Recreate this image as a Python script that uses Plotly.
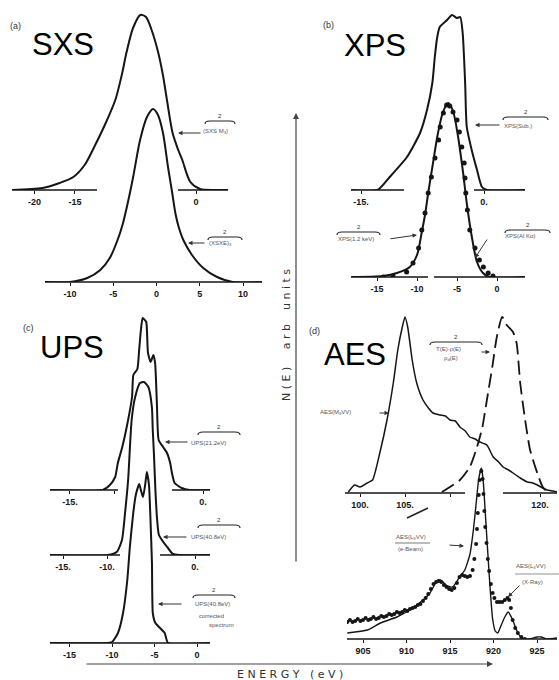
import plotly.graph_objects as go

W, H = 559, 680

# ---------------- data (energy in eV, N(E) in arbitrary units) ----------------
# (a) SXS
sxs_up_e = [-22.8, -19.0, -16.9, -15.2, -13.8, -12.8, -11.3, -10.0, -9.2, -8.6, -7.8, -6.9,
            -6.2, -5.5, -4.7, -4.1, -3.6, -2.9, -2.2, -1.7, -0.7, 0.5, 2.4, 4.0]
sxs_up_n = [0, 2, 7, 13, 25, 40, 65, 90, 115, 138, 162, 175,
            173, 160, 138, 115, 90, 57, 40, 30, 8, 1, 0, 0]
sxs_lo_e = [-12.9, -10.0, -8.0, -6.5, -5.4, -4.5, -3.9, -3.3, -2.7, -1.9, -1.1, -0.4,
            0.17, 0.75, 1.33, 1.8, 2.2, 2.6, 3.1, 4.1, 5.4, 7.0, 8.8, 12.2]
sxs_lo_n = [0, 0, 4, 12, 24, 42, 58, 80, 105, 142, 165, 173,
            167, 149, 115, 90, 68, 54, 42, 27, 14, 5, 0, 0]

# (b) XPS
xps_up_e = [-16.2, -13.0, -11.5, -9.4, -7.8, -6.95, -6.3, -6.0, -5.7, -5.4, -4.5, -3.9,
            -3.3, -2.9, -2.6, -2.3, -2.1, -1.5, -0.85, -0.25, 0.4, 5.0]
xps_up_n = [0, 0, 13, 33, 57, 80, 107, 133, 153, 163, 170, 175,
            172, 173, 157, 107, 63, 40, 20, 3, 0, 0]
xps_lo_e = [-18.2, -14.25, -12.5, -10.9, -10.0, -9.4, -9.0, -8.6, -8.0, -7.4, -6.75, -6.1,
            -5.5, -4.9, -4.25, -3.75, -3.1, -2.5, -1.75, -0.9, 3.5]
xps_lo_n = [0, 1, 4, 10, 22, 45, 62, 84, 114, 143, 165, 174,
            166, 142, 105, 72, 38, 15, 4, 0, 0]
xps_dot_e = [-14.2, -13.0, -11.3, -10.5, -9.8, -9.4, -9.0, -8.6, -8.2, -7.75, -7.3, -7.1,
             -6.7, -6.3, -5.9, -5.5, -5.0, -4.7, -4.4, -4.1, -4.0, -3.9, -3.7, -3.4,
             -2.75, -2.2, -1.7, -1.1, -0.5]
xps_dot_n = [0, 1, 5, 14, 29, 47, 64, 84, 100, 119, 137, 150,
             164, 172, 171, 165, 157, 145, 130, 114, 99, 84, 67, 47,
             29, 17, 10, 4, 1]

# (c) UPS
ups1_e = [-17.25, -11.3, -10.5, -9.9, -9.6, -9.1, -8.6, -8.0, -7.85, -7.4, -7.2, -7.0,
          -6.8, -6.4, -6.3, -6.2, -5.9, -5.6, -5.4, -5.2, -5.0, -4.5, -4.06, -3.7,
          -3.5, -3.2, -2.4, -1.5, 0.8]
ups1_n = [0, 0, 5, 13, 27, 43, 63, 93, 115, 121, 140, 160,
          172, 168, 155, 137, 128, 135, 127, 87, 50, 43, 37, 27,
          17, 7, 2, 0, 0]
ups2_e = [-16.5, -9.9, -8.9, -8.3, -7.95, -7.6, -7.2, -6.8, -6.25, -5.8, -5.3, -4.9,
          -4.8, -4.66, -4.5, -4.3, -4.1, -3.6, -3.07, -2.5, -1.7, 1.7]
ups2_n = [0, 0, 3, 15, 42, 75, 135, 158, 172, 173, 168, 148,
          125, 100, 65, 35, 20, 13, 7, 1, 0, 0]
ups3_e = [-17.3, -10.6, -10.0, -9.3, -8.7, -8.2, -7.9, -7.5, -7.2, -6.8, -6.6, -6.35,
          -6.1, -5.9, -5.65, -5.5, -5.3, -5.2, -4.9, -4.35, -3.8, -3.4, 1.5]
ups3_n = [0, 0, 1, 10, 30, 63, 96, 130, 148, 159, 153, 146,
          158, 171, 158, 130, 80, 30, 20, 15, 10, 0, 0]

# (d) AES  M3VV (solid) and comparison (dashed)
aes_m_e = [98.7, 99.4, 100.0, 100.8, 101.4, 102.2, 103.0, 103.7, 104.2, 104.7, 105.0, 105.3,
           105.8, 106.3, 107.0, 107.6, 108.1, 108.9, 109.5, 110.0, 110.6, 111.1, 111.7, 112.2,
           112.8, 113.3, 114.1, 114.8, 115.4, 115.9, 116.5, 117.0, 117.8, 118.6, 119.2, 119.7,
           120.3, 120.8, 121.4, 121.9]
aes_m_n = [1, 8, 6, 10, 13, 40, 73, 110, 143, 166, 176, 166,
           133, 110, 93, 85, 80, 78, 77, 73, 72, 66, 62, 56,
           54, 51, 48, 36, 31, 26, 23, 20, 15, 11, 10, 8,
           5, 3, 2, 1]
aes_t_e = [109.1, 111.1, 112.2, 113.0, 113.6, 114.1, 114.7, 115.2, 115.8, 116.3, 117.0, 117.4,
           117.8, 118.3, 118.9, 119.7, 120.3, 120.8]
aes_t_n = [1, 13, 26, 46, 66, 93, 126, 156, 176, 168, 161, 150,
           110, 76, 43, 20, 6, 1]

# (d) AES L3VV  e-beam (solid) and X-ray (dots)
aes_e_e = [903.2, 905.5, 907.0, 908.9, 910.7, 911.9, 912.7, 913.5, 913.9, 914.7, 915.3, 916.1,
           916.7, 917.3, 917.7, 918.0, 918.3, 918.6, 918.8, 919.1, 919.5, 919.9, 920.2, 920.5,
           920.8, 921.3, 921.7, 922.2, 922.8, 923.4, 924.2, 925.0, 925.5, 926.1, 927.3]
aes_e_n = [6, 9, 16, 22, 31, 39, 46, 58, 59, 53, 52, 62,
           69, 85, 110, 135, 160, 171, 160, 120, 65, 20, 8, 6,
           12, 22, 27, 19, 6, 0, 0, 2, 2, 0, 1]
aes_x_e = [903.2, 903.5, 903.8, 904.1, 904.4, 904.7, 905.0, 905.3, 905.6, 905.9, 906.2, 906.5,
           906.8, 907.1, 907.4, 907.7, 908.0, 908.3, 908.6, 908.9, 909.2, 909.5, 909.8, 910.1,
           910.4, 910.7, 911.0, 911.3, 911.6, 911.9, 912.2, 912.5, 912.8, 913.1, 913.4, 913.7,
           914.0, 914.3, 914.6, 914.9, 915.2, 915.5, 915.8, 916.1, 916.4, 916.7, 917.0, 917.3,
           917.6, 917.8, 918.0, 918.1, 918.2, 918.3, 918.4, 918.6, 918.75, 918.85, 918.95, 919.05,
           919.2, 919.35, 919.5, 919.7, 919.9, 920.1, 920.4, 920.7, 921.0, 921.3, 921.6, 921.8,
           922.0, 922.2, 922.5, 922.8, 923.2, 923.6]
aes_x_n = [17, 19, 17, 18, 20, 18, 19, 21, 19, 20, 22, 20,
           21, 23, 22, 23, 25, 24, 25, 27, 26, 27, 29, 28,
           30, 31, 32, 34, 35, 38, 41, 45, 50, 55, 57, 58,
           57, 54, 52, 50, 49, 51, 56, 62, 64, 63, 62, 63,
           69, 80, 95, 110, 126, 144, 159, 168, 160, 145, 128, 112,
           96, 80, 68, 55, 46, 41, 37, 37, 37, 39, 41, 39,
           31, 19, 11, 6, 2, 0]

# tick labels
ticks_a_up = ([-20, -15, 0], ["-20", "-15", "0"])
ticks_a_lo = ([-10, -5, 0, 5, 10], ["-10", "-5", "0", "5", "10"])
ticks_b_up = ([-15, 0], ["-15.", "0."])
ticks_b_lo = ([-15, -10, -5, 0], ["-15", "-10", "-5", "0"])
ticks_c1 = ([-15, -10, 0], ["-15.", "", "0."])
ticks_c2 = ([-15, -10, 0], ["-15.", "-10.", "0."])
ticks_c3 = ([-15, -10, -5, 0], ["-15", "-10", "-5", "0"])
ticks_d_up = ([100, 105, 110, 120], ["100.", "105.", "", "120."])
ticks_d_lo = ([905, 910, 915, 920, 925], ["905", "910", "915", "920", "925"])

# ---------------- layout of the sub-plots (pixel geometry) ----------------
# (left px, right px, baseline px, top px, ref px, ref value, px per unit, ticks, axis segments)
panels = [
    (12, 228, 190, 0, 196, 0, 8.07, ticks_a_up, [(12, 97), (178, 228)]),
    (45, 262, 282, 82, 156.5, 0, 8.65, ticks_a_lo, [(45, 262)]),
    (351, 525, 190, 0, 484, 0, 8.2, ticks_b_up, [(351, 404), (474, 525)]),
    (351, 525, 277, 77, 497, 0, 8.0, ticks_b_lo, [(351, 428), (434, 525)]),
    (50, 210, 490, 290, 203, 0, 8.87, ticks_c1, [(50, 118), (172, 210)]),
    (50, 210, 555, 355, 195, 0, 8.8, ticks_c2, [(50, 120), (160, 210)]),
    (50, 210, 643, 443, 197, 0, 8.5, ticks_c3, [(50, 210)]),
    (345, 557, 493, 293, 360, 100, 9.0, ticks_d_up, [(345, 465), (503, 557)]),
    (347, 557, 639, 439, 363, 905, 8.7, ticks_d_lo, [(347, 557)]),
]

INK = "#151515"
fig = go.Figure()
shapes = []
layout = {}
for i, (l, r, base, top, pref, vref, ppu, tk, segs) in enumerate(panels, start=1):
    xs = "" if i == 1 else str(i)
    x0 = vref + (l - pref) / ppu
    x1 = vref + (r - pref) / ppu
    layout["xaxis" + xs] = dict(
        domain=[l / W, r / W], range=[x0, x1], anchor="y" + xs,
        showline=False, showgrid=False, zeroline=False,
        ticks="outside", ticklen=3, tickwidth=1, tickcolor=INK,
        tickvals=tk[0], ticktext=tk[1],
        tickfont=dict(family="Liberation Sans", size=9, color=INK, weight="bold"),
        fixedrange=True)
    layout["yaxis" + xs] = dict(
        domain=[1 - base / H, 1 - top / H], range=[0, base - top], anchor="x" + xs,
        visible=False, fixedrange=True)
    for (s0, s1) in segs:
        shapes.append(dict(type="line", xref="paper", yref="paper",
                           x0=s0 / W, x1=s1 / W, y0=1 - base / H, y1=1 - base / H,
                           line=dict(color=INK, width=1.6)))


def curve(i, x, y, width=2.0, dash="solid", smooth=0.8):
    xs = "" if i == 1 else str(i)
    fig.add_trace(go.Scatter(x=x, y=y, mode="lines", xaxis="x" + xs, yaxis="y" + xs,
                             line=dict(color=INK, width=width, dash=dash,
                                       shape="spline", smoothing=smooth),
                             showlegend=False, hoverinfo="skip"))


def dots(i, x, y, size=5):
    xs = "" if i == 1 else str(i)
    fig.add_trace(go.Scatter(x=x, y=y, mode="markers", xaxis="x" + xs, yaxis="y" + xs,
                             marker=dict(color=INK, size=size), showlegend=False,
                             hoverinfo="skip"))


curve(1, sxs_up_e, sxs_up_n)
curve(2, sxs_lo_e, sxs_lo_n)
curve(3, xps_up_e, xps_up_n, smooth=0.6)
curve(4, xps_lo_e, xps_lo_n)
dots(4, xps_dot_e, xps_dot_n, 5)
curve(5, ups1_e, ups1_n, smooth=0.5)
curve(6, ups2_e, ups2_n, smooth=0.6)
curve(7, ups3_e, ups3_n, smooth=0.5)
curve(8, aes_m_e, aes_m_n, width=1.5, smooth=0.5)
curve(8, aes_t_e, aes_t_n, width=1.8, dash="14px,6px", smooth=0.6)
dots(9, aes_x_e, aes_x_n, 4)
curve(9, aes_e_e, aes_e_n, width=1.4, smooth=0.5)

annotations = []


def px(x, y):
    return x / W, 1 - y / H


def text(x, y, s, size=7, color="#555", anchor="left", family="Liberation Sans", angle=0):
    xx, yy = px(x, y)
    annotations.append(dict(x=xx, y=yy, xref="paper", yref="paper", text=s, showarrow=False,
                            xanchor=anchor, yanchor="middle", textangle=angle,
                            font=dict(size=size, color=color, family=family)))


def arrow(hx, hy, tx, ty, width=1.0, color="#333", head=2, size=0.9):
    xx, yy = px(hx, hy)
    annotations.append(dict(x=xx, y=yy, xref="paper", yref="paper", text="", showarrow=True,
                            ax=tx - hx, ay=ty - hy, arrowhead=head, arrowsize=size,
                            arrowwidth=width, arrowcolor=color,
                            font=dict(size=6, color=color)))


def brace(x0, x1, y):
    a = px(x0, y + 3)
    b = px(x0 + 5, y)
    c = px(x1 - 5, y)
    d = px(x1, y + 3)
    q0 = px(x0, y)
    q1 = px(x1, y)
    path = (f"M {a[0]},{a[1]} Q {q0[0]},{q0[1]} {b[0]},{b[1]} L {c[0]},{c[1]} "
            f"Q {q1[0]},{q1[1]} {d[0]},{d[1]}")
    shapes.append(dict(type="path", xref="paper", yref="paper", path=path,
                       line=dict(color="#222", width=1.2)))
    text((x0 + x1) / 2, y - 5, "2", size=6, color="#333", anchor="center")


# panel letters and titles
text(8, 26, "(a)", size=9, color="#333")
text(30, 45, "SXS", size=31, color="#000")
text(321, 25, "(b)", size=9, color="#333")
text(342, 46, "XPS", size=31, color="#000")
text(21, 328, "(c)", size=9, color="#333")
text(38, 347, "UPS", size=31, color="#000")
text(307, 331, "(d)", size=9, color="#333")
text(322, 354, "AES", size=31, color="#000")

# small curve labels
brace(205, 235, 121)
text(201, 131, "(SXS M<sub>3</sub>)", size=6)
arrow(178, 133, 202, 133)
brace(208, 242, 237)
text(207, 243, "(XSXE)<sub>3</sub>", size=6)
arrow(188, 243, 206, 243)

brace(503, 548, 117)
text(502, 126, "XPS(Sub.)", size=6)
arrow(475, 125, 501, 125)
brace(337, 380, 232)
text(336, 239, "XPS(1.2 keV)", size=6)
arrow(417, 235, 389, 239)
brace(505, 550, 230)
text(503, 236, "XPS(Al Kα)", size=6)
arrow(475, 258, 488, 238)

brace(198, 240, 432)
text(189, 443, "UPS(21.2eV)", size=6)
arrow(165, 442, 189, 442)
brace(198, 240, 525)
text(189, 537, "UPS(40.8eV)", size=6)
arrow(163, 537, 188, 537)
brace(193, 235, 595)
text(193, 604, "UPS(40.8eV)", size=6)
text(197, 616, "corrected", size=6)
text(207, 625, "spectrum", size=6)
arrow(158, 604, 183, 604)

text(318, 413, "AES(M<sub>3</sub>VV)", size=6)
arrow(389, 413, 378, 413)
brace(430, 482, 342)
text(434, 349, "T(E)·ρ(E)", size=6)
text(442, 358, "ρ<sub>d</sub>(E)", size=6)
arrow(490, 352, 480, 352)

text(394, 537, "AES(L<sub>3</sub>VV)", size=6)
shapes.append(dict(type="line", xref="paper", yref="paper",
                   x0=395 / W, x1=430 / W, y0=1 - 543 / H, y1=1 - 543 / H,
                   line=dict(color="#555", width=0.8)))
text(396, 549, "(e-Beam)", size=6)
arrow(464, 546, 448, 545)
text(514, 566, "AES(L<sub>3</sub>VV)", size=6)
shapes.append(dict(type="line", xref="paper", yref="paper",
                   x0=515 / W, x1=559 / W, y0=1 - 574 / H, y1=1 - 574 / H,
                   line=dict(color="#777", width=0.8)))
text(520, 582, "(X-Ray)", size=6)
arrow(508, 597, 521, 584)

# stray stroke in panel (d)
a0 = px(407, 518)
a1 = px(428, 508)
shapes.append(dict(type="line", xref="paper", yref="paper", x0=a0[0], y0=a0[1],
                   x1=a1[0], y1=a1[1], line=dict(color="#222", width=1.6)))

# main axes arrows and titles
arrow(296, 113, 296, 563, width=1.2, color="#444", head=2, size=1.0)
arrow(493, 664, 85, 664, width=1.2, color="#444", head=2, size=1.0)
text(286, 335, "N ( E )     a r b    u n i t s", size=11, color="#333", anchor="center",
     family="DejaVu Sans", angle=-90)
text(290, 674, "E N E R G Y   ( e V )", size=11, color="#333", anchor="center",
     family="DejaVu Sans")

fig.update_layout(width=W, height=H, margin=dict(l=0, r=0, t=0, b=0),
                  paper_bgcolor="white", plot_bgcolor="rgba(0,0,0,0)",
                  showlegend=False, shapes=shapes, annotations=annotations, **layout)

fig.write_html("out.html",
               config={"displayModeBar": False, "staticPlot": True},
               post_script="document.body.style.margin='0';"
                           "document.body.style.overflow='hidden';")
